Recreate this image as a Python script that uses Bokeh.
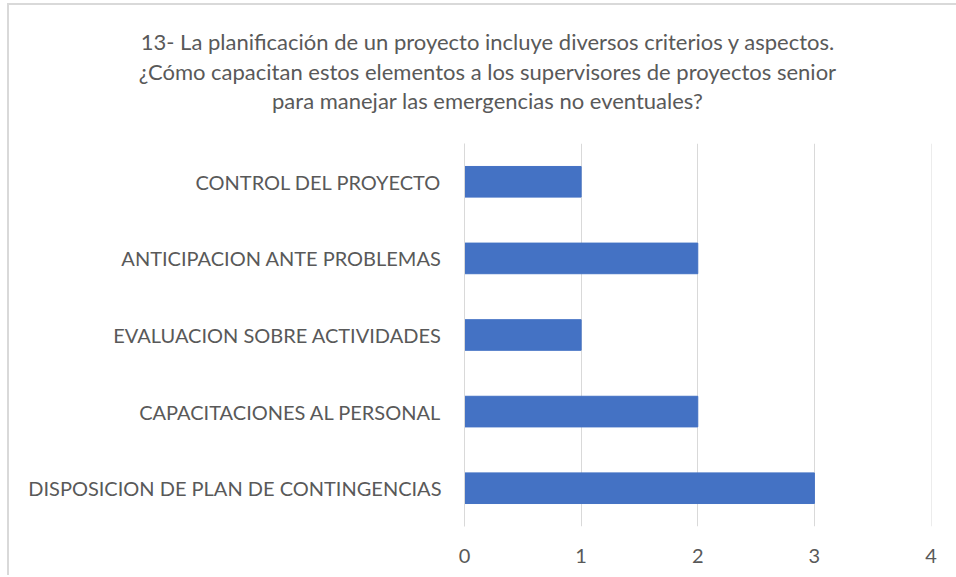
from bokeh.plotting import figure
from bokeh.models import FactorRange, Range1d, FixedTicker, Div
from bokeh.layouts import column
from bokeh.embed import file_html
from bokeh.resources import INLINE

categories = [
    "DISPOSICION DE PLAN DE CONTINGENCIAS",
    "CAPACITACIONES AL PERSONAL",
    "EVALUACION SOBRE ACTIVIDADES",
    "ANTICIPACION ANTE PROBLEMAS",
    "CONTROL DEL PROYECTO",
]
values = [3, 2, 1, 2, 1]
x_ticks = [0, 1, 2, 3, 4]
title_lines = [
    "13- La planificación de un proyecto incluye diversos criterios y aspectos.",
    "¿Cómo capacitan estos elementos a los supervisores de proyectos senior",
    "para manejar las emergencias no eventuales?",
]

FONT = "Lato"
TXT = "#595959"
GRID = "#d9d9d9"

title = Div(
    text=(
        f'<div style="width:940px; padding-left:7px; padding-top:17px; text-align:center; '
        f'font-family:{FONT}; font-size:22px; line-height:29.5px; color:{TXT};">'
        + "<br>".join(title_lines) + "</div>"
    ),
    width=947, height=128,
)

p = figure(
    y_range=FactorRange(factors=categories),
    x_range=Range1d(0, 4.004),
    width=947, height=432,
    frame_width=467, frame_height=383,
    min_border_left=455, min_border_right=25,
    min_border_top=0, min_border_bottom=49,
    output_backend="svg", toolbar_location=None,
)
p.hbar(y=categories, right=values, left=0, height=0.4, color="#4472C4")

p.outline_line_color = None
p.background_fill_color = "white"
p.border_fill_color = "white"

p.xaxis.ticker = FixedTicker(ticks=x_ticks)
p.xgrid.ticker = FixedTicker(ticks=x_ticks)
p.xgrid.grid_line_color = GRID
p.xgrid.grid_line_width = 1
p.ygrid.grid_line_color = None

for ax in (p.xaxis, p.yaxis):
    ax.axis_line_color = None
    ax.major_tick_line_color = None
    ax.minor_tick_line_color = None
    ax.major_label_text_font = FONT
    ax.major_label_text_font_size = "20px"
    ax.major_label_text_color = TXT
p.yaxis.axis_line_color = GRID
p.yaxis.major_label_standoff = 17
p.xaxis.major_label_standoff = 16

layout = column(
    title, p, spacing=0,
    styles={"margin-left": "7px", "margin-top": "3px",
            "border-left": f"2px solid {GRID}", "border-top": f"2px solid {GRID}",
            "background": "white"},
)

open("out.html", "w").write(file_html(layout, INLINE))
